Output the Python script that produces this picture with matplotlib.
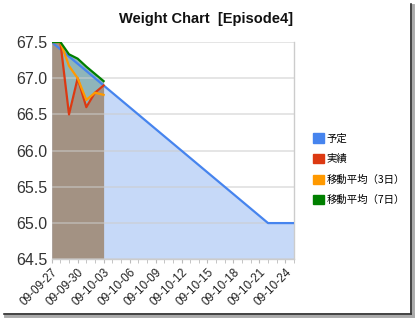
import matplotlib
matplotlib.use("Agg")
import matplotlib.pyplot as plt
from matplotlib.patches import Patch
from matplotlib.lines import Line2D
import numpy as np

plt.rcParams['font.family'] = ['Liberation Sans', 'Noto Sans CJK JP', 'DejaVu Sans']

# ---- data ----
dates = ["09-09-27", "09-09-28", "09-09-29", "09-09-30", "09-10-01", "09-10-02",
         "09-10-03", "09-10-04", "09-10-05", "09-10-06", "09-10-07", "09-10-08",
         "09-10-09", "09-10-10", "09-10-11", "09-10-12", "09-10-13", "09-10-14",
         "09-10-15", "09-10-16", "09-10-17", "09-10-18", "09-10-19", "09-10-20",
         "09-10-21", "09-10-22", "09-10-23", "09-10-24", "09-10-25"]
plan = [67.5, 67.4, 67.3, 67.2, 67.1, 67.0, 66.9, 66.8, 66.7, 66.6, 66.5, 66.4,
        66.3, 66.2, 66.1, 66.0, 65.9, 65.8, 65.7, 65.6, 65.5, 65.4, 65.3, 65.2,
        65.1, 65.0, 65.0, 65.0, 65.0]
actual = [67.5, 67.5, 66.5, 67.0, 66.6, 66.8, 66.9]
ma3 = [67.5, 67.5, 67.17, 67.0, 66.7, 66.8, 66.77]
ma7 = [67.5, 67.5, 67.33, 67.27, 67.16, 67.06, 66.96]
series_names = ["予定", "実績", "移動平均（3日）", "移動平均（7日）"]
series_colors = ["#4684ee", "#dc3912", "#ff9900", "#008000"]
tick_labels = dates[::3]
yticks = [64.5, 65.0, 65.5, 66.0, 66.5, 67.0, 67.5]

# ---- figure ----
W, H = 415, 318
fig = plt.figure(figsize=(W / 100, H / 100), dpi=100)
fig.patch.set_facecolor("white")
ax = fig.add_axes([51.7 / W, 1 - 259.3 / H, (294 - 51.7) / W, (259.3 - 42) / H])

x_all = np.arange(len(dates))
x_act = np.arange(len(actual))
ymin = yticks[0]

# fills
ax.fill_between(x_all, ymin, plan, color="#c6d9f8", lw=0, zorder=1)
ax.fill_between(x_act, actual, ma7, color="#8fb5b9", lw=0, zorder=2)
ax.fill_between(x_act, ymin, actual, color="#a39283", lw=0, zorder=2)

# grid
for yv in yticks:
    ax.axhline(yv, color="#cccccc", lw=1.2, alpha=0.6, zorder=3)

# lines
ax.plot(x_all, plan, color=series_colors[0], lw=1.6, zorder=5)
ax.plot(x_act, actual, color=series_colors[1], lw=1.6, zorder=6)
ax.plot(x_act, ma3, color=series_colors[2], lw=1.6, zorder=7)
ax.plot(x_act, ma7, color=series_colors[3], lw=1.6, zorder=8)

ax.set_xlim(0, len(dates) - 1)
ax.set_ylim(yticks[0], yticks[-1])
ax.set_yticks(yticks)
ax.set_yticklabels([f"{v:.1f}" for v in yticks], fontsize=11.5, color="#333333")
ax.tick_params(axis="y", length=0, pad=3)

ax.set_xticks(x_all, minor=True)
ax.set_xticks(x_all[::3])
ax.set_xticklabels(tick_labels, rotation=45, ha="right", rotation_mode="anchor",
                   fontsize=8.5, color="#222222")
ax.tick_params(axis="x", which="both", length=3, color="#bbbbbb", pad=2)

for s in ["top", "left"]:
    ax.spines[s].set_visible(False)
for s in ["right", "bottom"]:
    ax.spines[s].set_color("#cccccc")
    ax.spines[s].set_linewidth(1.0)

# title
fig.text(205.7 / W, 1 - 19 / H, "Weight Chart  [Episode4]", ha="center", va="center",
         fontsize=10.5, fontweight="bold", color="#111111")

# legend
handles = [Patch(facecolor=c, edgecolor=c) for c in series_colors]
leg = fig.legend(handles, series_names, loc="upper left",
                 bbox_to_anchor=(308 / W, 1 - 128 / H), frameon=False,
                 fontsize=7.5, handlelength=1.0, handleheight=1.0,
                 handletextpad=0.3, labelspacing=1.0, borderpad=0,
                 prop={'family': ['Noto Sans CJK JP', 'DejaVu Sans'], 'size': 7.5})

# outer frame (shadow border)
fig.add_artist(Line2D([411.5 / W, 411.5 / W], [1 - 6 / H, 1 - 314.5 / H],
                      transform=fig.transFigure, color="#aaaaaa", lw=3.5))
fig.add_artist(Line2D([6 / W, 411.5 / W], [1 - 314.5 / H, 1 - 314.5 / H],
                      transform=fig.transFigure, color="#aaaaaa", lw=3.5))
fig.add_artist(Line2D([410.5 / W, 410.5 / W], [1 - 4 / H, 1 - 313.5 / H],
                      transform=fig.transFigure, color="#333333", lw=1.2))
fig.add_artist(Line2D([4 / W, 410.5 / W], [1 - 313.5 / H, 1 - 313.5 / H],
                      transform=fig.transFigure, color="#333333", lw=1.2))

fig.savefig("out.png", dpi=100, facecolor="white")
